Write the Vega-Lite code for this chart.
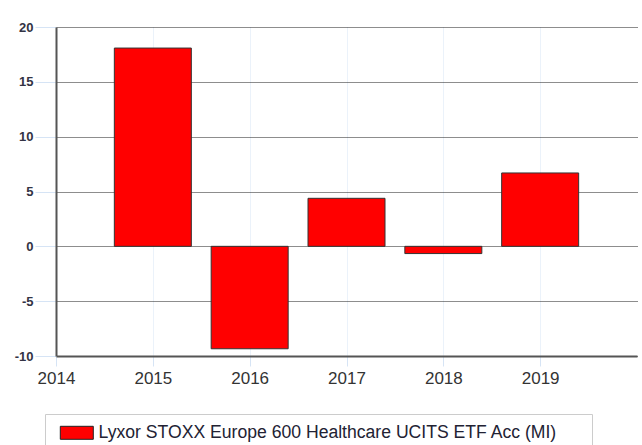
{
  "$schema": "https://vega.github.io/schema/vega-lite/v6.json",
  "autosize": "none",
  "width": 581,
  "height": 329,
  "padding": {"left": 56, "top": 27, "right": 5, "bottom": 89},
  "background": "white",
  "config": {
    "view": {"stroke": null},
    "font": "Liberation Sans"
  },
  "data": {
    "values": [
      {"year": 2015, "value": 18.08, "series": "Lyxor STOXX Europe 600 Healthcare UCITS ETF Acc (MI)"},
      {"year": 2016, "value": -9.34, "series": "Lyxor STOXX Europe 600 Healthcare UCITS ETF Acc (MI)"},
      {"year": 2017, "value": 4.38, "series": "Lyxor STOXX Europe 600 Healthcare UCITS ETF Acc (MI)"},
      {"year": 2018, "value": -0.66, "series": "Lyxor STOXX Europe 600 Healthcare UCITS ETF Acc (MI)"},
      {"year": 2019, "value": 6.69, "series": "Lyxor STOXX Europe 600 Healthcare UCITS ETF Acc (MI)"}
    ]
  },
  "mark": {"type": "bar", "size": 77, "stroke": "#333333", "strokeWidth": 1},
  "encoding": {
    "x": {
      "field": "year", "type": "quantitative",
      "scale": {"domain": [2014, 2020], "nice": false, "zero": false, "padding": 0},
      "axis": {
        "title": null, "values": [2014, 2015, 2016, 2017, 2018, 2019], "format": "d",
        "labelFlush": false, "labelOverlap": false,
        "domainColor": "#555555", "domainWidth": 2,
        "tickColor": "#d6e4f5", "tickSize": 10, "tickWidth": 1,
        "labelFont": "Liberation Sans", "labelFontSize": 17, "labelColor": "#333333", "labelPadding": 4,
        "grid": true, "gridColor": "#d6e4f5", "gridDash": [1, 1], "gridWidth": 1
      }
    },
    "y": {
      "field": "value", "type": "quantitative",
      "scale": {"domain": [-10, 20], "nice": false},
      "axis": {
        "title": null, "values": [-10, -5, 0, 5, 10, 15, 20],
        "labelExpr": "replace(datum.label, '\u2212', '-')",
        "labelFlush": false,
        "domainColor": "#555555", "domainWidth": 2,
        "tickColor": "#d6e4f5", "tickSize": 21, "tickWidth": 1,
        "labelFont": "Liberation Sans", "labelFontSize": 13, "labelFontWeight": "bold", "labelColor": "#333344", "labelPadding": 2,
        "grid": true, "gridColor": "#1a1a1a", "gridDash": [1, 1], "gridWidth": 1
      }
    },
    "color": {
      "field": "series", "type": "nominal",
      "scale": {"range": ["#ff0000"]},
      "legend": {
        "title": "\u00a0", "titleOrient": "right", "titlePadding": 25, "titleFontSize": 17.6,
        "orient": "none", "legendX": -11, "legendY": 387,
        "padding": 10, "strokeColor": "#cccccc", "fillColor": "white",
        "symbolType": "M-0.538,-1H4.538V1H-0.538Z", "symbolSize": 169,
        "symbolStrokeColor": "#222222", "symbolStrokeWidth": 1, "symbolOpacity": 1,
        "labelFont": "Liberation Sans", "labelFontSize": 17.6, "labelColor": "#222233", "labelOffset": 26, "labelLimit": 700
      }
    }
  }
}
